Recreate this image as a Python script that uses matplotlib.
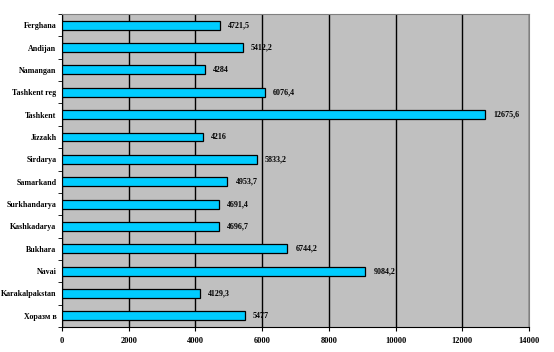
import numpy as np
import matplotlib
matplotlib.use('Agg')
import matplotlib.pyplot as plt

regions = ['Ferghana', 'Andijan', 'Namangan', 'Tashkent reg', 'Tashkent', 'Jizzakh',
           'Sirdarya', 'Samarkand', 'Surkhandarya', 'Kashkadarya', 'Bukhara', 'Navai',
           'Karakalpakstan', 'Хоразм в']
values = [4721.5, 5412.2, 4284, 6076.4, 12675.6, 4216, 5833.2, 4953.7, 4691.4,
          4696.7, 6744.2, 9084.2, 4129.3, 5477]
xticks = [0, 2000, 4000, 6000, 8000, 10000, 12000, 14000]

plt.rcParams['font.family'] = ['Liberation Serif', 'DejaVu Serif']
plt.rcParams['font.weight'] = 'bold'

fig = plt.figure(figsize=(5.54, 3.52), dpi=100)
ax = fig.add_axes([0.112, 0.071, 0.843, 0.889])
ax.set_facecolor('#C0C0C0')

y = np.arange(len(regions))
ax.barh(y, values, height=0.4, color='#00CCFF', edgecolor='black', linewidth=0.9, zorder=3)
for yi, v in zip(y, values):
    txt = ('%g' % v).replace('.', ',')
    ax.text(v + 250, yi, txt, va='center', ha='left', fontsize=5.8, fontweight='bold', zorder=4)

ax.set_xlim(0, 14000)
ax.set_ylim(len(regions) - 0.5, -0.5)
ax.set_xticks(xticks)
ax.set_xticklabels([str(t) for t in xticks], fontsize=6, fontweight='bold')
ax.set_yticks(y)
ax.set_yticklabels(regions, fontsize=5.7, fontweight='bold')
ax.tick_params(axis='y', length=0, pad=4)
ax.set_yticks(np.arange(len(regions) + 1) - 0.5, minor=True)
ax.tick_params(axis='y', which='minor', length=3, direction='out')
ax.tick_params(axis='x', length=3, direction='out', pad=4)
ax.xaxis.grid(True, color='black', linewidth=1, zorder=1)
ax.set_axisbelow(True)

ax.spines['left'].set_color('black')
ax.spines['bottom'].set_color('black')
ax.spines['top'].set_color('#808080')
ax.spines['right'].set_color('#808080')

fig.savefig('out.png', dpi=100)
